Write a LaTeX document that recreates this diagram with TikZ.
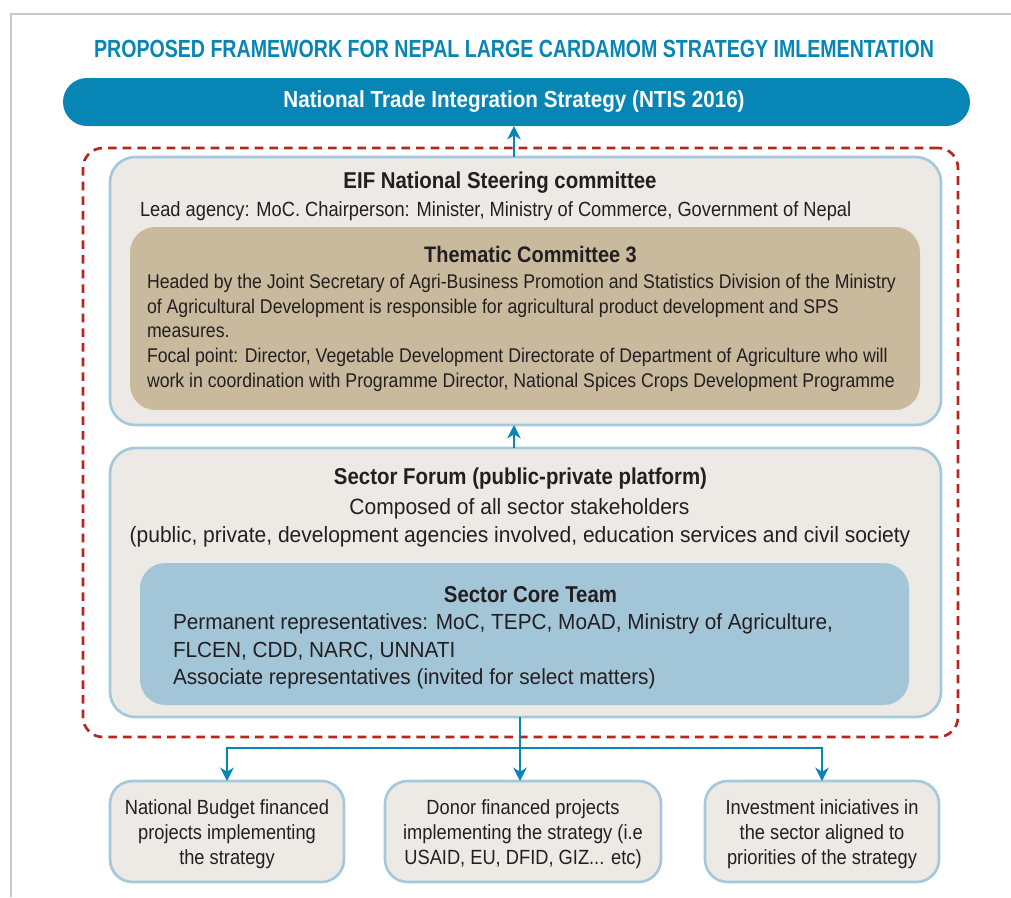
\documentclass[tikz,border=0pt]{standalone}
\usepackage{fontspec}
\setmainfont{Liberation Sans}[FakeStretch=0.89]
\newfontfamily\titlefont{Liberation Sans}[FakeStretch=0.79]
\newfontfamily\widefont{Liberation Sans}[FakeStretch=0.95]
\usetikzlibrary{arrows.meta}
\definecolor{eifblue}{HTML}{0786B6}
\definecolor{boxfill}{HTML}{EDEAE5}
\definecolor{boxline}{HTML}{A5C8DC}
\definecolor{tanfill}{HTML}{C9B99D}
\definecolor{corefill}{HTML}{A3C5D8}
\definecolor{txt}{HTML}{231F20}
\definecolor{dashred}{HTML}{B5261E}
\definecolor{framegrey}{HTML}{C8C8C8}
\begin{document}
\begin{tikzpicture}[x=0.75pt,y=-0.75pt,
  every node/.style={inner sep=0pt,outer sep=0pt,text=txt},
  headf/.style={font=\fontsize{17.2}{20}\selectfont\bfseries},
  outerbox/.style={draw=boxline,line width=2pt,fill=boxfill,rounded corners=19pt},
  innerbox/.style={rounded corners=19pt},
  leafbox/.style={draw=boxline,line width=2pt,fill=boxfill,rounded corners=17pt,
    minimum height=101*0.75pt},
  leaftext/.style={font=\fontsize{15.4}{18.75}\selectfont,align=center},
  groupbox/.style={draw=dashred,line width=2pt,dash pattern=on 6.5pt off 4.5pt,rounded corners=15pt},
  conn/.style={draw=eifblue,line width=2pt},
  arr/.style={conn,-{Stealth[length=10pt,width=10pt,inset=3pt]}}
]
\useasboundingbox (0,0) rectangle (1011,897);
% partial frame
\draw[framegrey,line width=1.3pt] (11,897) -- (11,14) -- (1011,14);

% title
\node[font=\titlefont\fontsize{18.6}{22}\selectfont\bfseries,text=eifblue] (title) at (514,49) {PROPOSED FRAMEWORK FOR NEPAL LARGE CARDAMOM STRATEGY IMLEMENTATION};

% NTIS pill
\node[fill=eifblue,rounded corners=18pt,minimum width=907*0.75pt,minimum height=48*0.75pt] (ntis) at (516.5,102) {};
\node[font=\fontsize{17.4}{20}\selectfont\bfseries,text=white] (ntist) at (514,102) {National Trade Integration Strategy (NTIS 2016)};

% red dashed group
\node[groupbox,minimum width=875*0.75pt,minimum height=589*0.75pt] (grp) at (520.5,442.5) {};

% EIF box
\node[outerbox,minimum width=831*0.75pt,minimum height=268*0.75pt] (eif) at (525.5,291) {};
\node[headf] (eifh) at (500,183) {EIF National Steering committee};
\node[font=\fontsize{15.4}{18.6}\selectfont,anchor=west] (eifl) at (140,211) {Lead agency: MoC. Chairperson: Minister, Ministry of Commerce, Government of Nepal};

% Thematic committee
\node[innerbox,fill=tanfill,minimum width=790*0.75pt,minimum height=183*0.75pt] (them) at (525,318.5) {};
\node[font=\fontsize{16.8}{20}\selectfont\bfseries] (themh) at (530.5,255) {Thematic Committee 3};
\node[font=\fontsize{14.9}{18.56}\selectfont,anchor=north west,align=left] (themt) at (147,274) {Headed by the Joint Secretary of Agri-Business Promotion and Statistics Division of the Ministry\\of Agricultural Development is responsible for agricultural product development and SPS\\measures.\\Focal point: Director, Vegetable Development Directorate of Department of Agriculture who will\\work in coordination with Programme Director, National Spices Crops Development Programme};

% Sector forum
\node[outerbox,minimum width=831*0.75pt,minimum height=269*0.75pt] (sf) at (525.5,582.5) {};
\node[headf] (sfh) at (520.5,479) {Sector Forum (public-private platform)};
\node[font=\widefont\fontsize{16.6}{20}\selectfont] (sfa) at (519.5,509) {Composed of all sector stakeholders};
\node[font=\widefont\fontsize{16.6}{20}\selectfont] (sfb) at (520,537) {(public, private, development agencies involved, education services and civil society};

% Core team
\node[innerbox,fill=corefill,minimum width=769*0.75pt,minimum height=142*0.75pt] (core) at (524.5,634) {};
\node[headf] (coreh) at (530.5,595) {Sector Core Team};
\node[font=\widefont\fontsize{16.4}{20.6}\selectfont,anchor=north west,align=left] (coret) at (173,614) {Permanent representatives: MoC, TEPC, MoAD, Ministry of Agriculture,\\FLCEN, CDD, NARC, UNNATI\\Associate representatives (invited for select matters)};

% bottom boxes
\node[leafbox,minimum width=234*0.75pt] (b1) at (227,831.5) {};
\node[leaftext] (b1t) at (227,834) {National Budget financed\\projects implementing\\the strategy};
\node[leafbox,minimum width=276*0.75pt] (b2) at (523,831.5) {};
\node[leaftext] (b2t) at (523,834) {Donor financed projects\\implementing the strategy (i.e\\USAID, EU, DFID, GIZ... etc)};
\node[leafbox,minimum width=234*0.75pt] (b3) at (822,831.5) {};
\node[leaftext] (b3t) at (822,834) {Investment iniciatives in\\the sector aligned to\\priorities of the strategy};

% connectors
\coordinate (jn) at (520,748);
\draw[arr] (eif.north -| ntist.south) -- (ntis.south -| ntist.south);
\draw[arr] (sf.north -| ntist.south) -- (eif.south -| ntist.south);
\draw[arr] (sf.south -| jn) -- (b2.north -| jn);
\draw[arr] (jn) -| (b1.north);
\draw[arr] (jn) -| (b3.north);
\end{tikzpicture}
\end{document}
